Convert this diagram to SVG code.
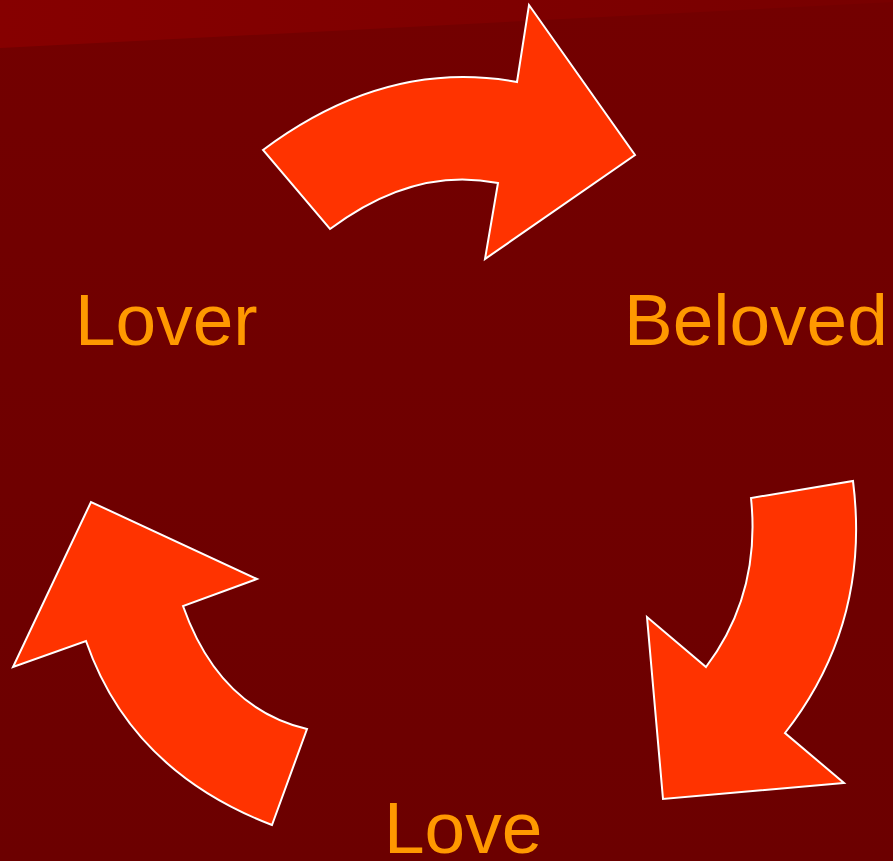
<svg xmlns="http://www.w3.org/2000/svg" width="893" height="861" viewBox="0 0 893 861">
<defs>
<linearGradient id="bg" x1="0" y1="0" x2="0" y2="1">
<stop offset="0" stop-color="#730000"/>
<stop offset="1" stop-color="#6c0000"/>
</linearGradient>
<linearGradient id="band" x1="0" y1="0" x2="1" y2="0">
<stop offset="0" stop-color="#860000"/>
<stop offset="1" stop-color="#780000"/>
</linearGradient>
<style>
.arrow{fill:#ff3300;stroke:#ffffff;stroke-width:2;stroke-linejoin:miter}
.lbl{font-family:"Liberation Sans",Arial,sans-serif;font-size:73px;fill:#ff9900}
</style>
</defs>
<rect width="893" height="861" fill="url(#bg)"/>
<polygon points="0,0 893,0 893,2 0,48" fill="url(#band)"/>
<g id="connectors">
<path id="arrow-top" class="arrow" d="M263,150 Q386,58 517,82 L529,5 L635,155 L485,259 L498,183 Q414,166 330,229 Z"/>
<path id="arrow-right" class="arrow" d="M853,481 Q871,623 785,733 L844,783 L663,799 L647,617 L706,667 Q761,594 751,498 Z"/>
<path id="arrow-left" class="arrow" d="M272,825 Q131,771 86,641 L13,667 L91,502 L257,579 L183,606 Q219,708 307,729 Z"/>
</g>
<g id="lover"><text class="lbl" x="75" y="345">Lover</text></g>
<g id="beloved"><text class="lbl" x="624" y="345">Beloved</text></g>
<g id="love"><text class="lbl" x="384" y="853">Love</text></g>
</svg>
